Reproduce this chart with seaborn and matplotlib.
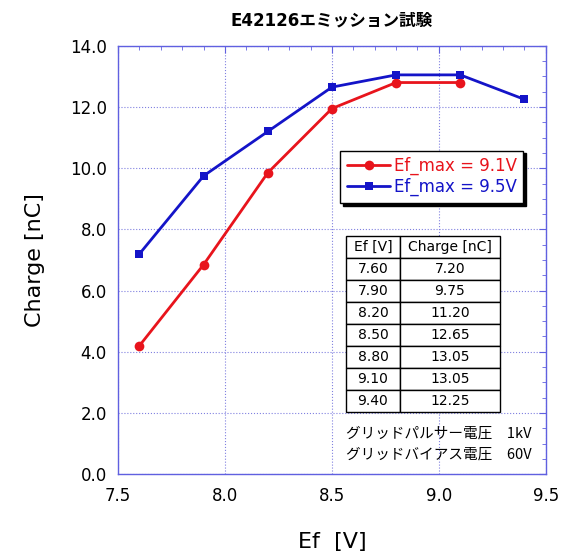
import pandas as pd
import matplotlib
matplotlib.use("Agg")
import matplotlib.pyplot as plt
import seaborn as sns
from matplotlib.ticker import MultipleLocator, FormatStrFormatter

# data
ef_91 = [7.6, 7.9, 8.2, 8.5, 8.8, 9.1]
charge_91 = [4.2, 6.85, 9.85, 11.95, 12.8, 12.8]
ef_95 = [7.6, 7.9, 8.2, 8.5, 8.8, 9.1, 9.4]
charge_95 = [7.20, 9.75, 11.20, 12.65, 13.05, 13.05, 12.25]
table_cols = ["Ef [V]", "Charge [nC]"]
table_ef = ["7.60", "7.90", "8.20", "8.50", "8.80", "9.10", "9.40"]
table_q = ["7.20", "9.75", "11.20", "12.65", "13.05", "13.05", "12.25"]
notes = ["グリッドパルサー電圧　1kV", "グリッドバイアス電圧　60V"]

sns.set_style("white", {"text.color": "black", "axes.labelcolor": "black",
                        "xtick.color": "black", "ytick.color": "black"})
plt.rcParams['font.family'] = ['DejaVu Sans', 'Noto Sans CJK JP']

fig = plt.figure(figsize=(5.65, 5.52), dpi=100)
ax = fig.add_axes([0.209, 0.141, 0.757, 0.776])

df1 = pd.DataFrame({"Ef": ef_91, "Charge": charge_91})
df2 = pd.DataFrame({"Ef": ef_95, "Charge": charge_95})
sns.lineplot(data=df1, x="Ef", y="Charge", ax=ax, color="#e8141c", marker="o",
             markersize=7, markeredgewidth=0, lw=2, label="Ef_max = 9.1V")
sns.lineplot(data=df2, x="Ef", y="Charge", ax=ax, color="#1414c8", marker="s",
             markersize=6, markeredgewidth=0, lw=2, label="Ef_max = 9.5V")

ax.set_xlim(7.5, 9.5)
ax.set_ylim(0, 14)
ax.xaxis.set_major_locator(MultipleLocator(0.5))
ax.xaxis.set_minor_locator(MultipleLocator(0.1))
ax.yaxis.set_major_locator(MultipleLocator(2))
ax.yaxis.set_minor_locator(MultipleLocator(0.5))
ax.xaxis.set_major_formatter(FormatStrFormatter('%.1f'))
ax.yaxis.set_major_formatter(FormatStrFormatter('%.1f'))
ax.tick_params(which='both', direction='in', top=True, right=True, color='#6060e0',
               labelcolor='black')
ax.tick_params(which='major', length=5, labelsize=12)
ax.tick_params(which='minor', length=3)
ax.tick_params(axis='x', which='major', pad=9)
ax.tick_params(axis='y', which='major', pad=8)
for s in ax.spines.values():
    s.set_color('#6060e0')
    s.set_linewidth(1)
ax.grid(True, which='major', color='#8080e0', linestyle=':', linewidth=0.8)

ax.set_xlabel("Ef  [V]", fontsize=16, labelpad=20, color='black')
ax.set_ylabel("Charge [nC]", fontsize=16, labelpad=18, color='black')
ax.set_title("E42126エミッション試験", fontsize=12, fontweight='bold', pad=15,
             color='black')

leg = ax.legend(loc='upper left', bbox_to_anchor=(0.5, 0.775), fontsize=12,
                frameon=True, fancybox=False, shadow={'color': 'black', 'alpha': 1},
                handlelength=2.6, borderpad=0.4, labelspacing=0.15, handletextpad=0.2)
leg.get_frame().set_edgecolor('black')
leg.get_frame().set_linewidth(1)
for txt, c in zip(leg.get_texts(), ["#e8141c", "#1414c8"]):
    txt.set_color(c)

rows = [[a, b] for a, b in zip(table_ef, table_q)]
tbl = ax.table(cellText=rows, colLabels=table_cols, bbox=[0.533, 0.145, 0.36, 0.411],
               colWidths=[0.35, 0.65], cellLoc='center')
tbl.auto_set_font_size(False)
tbl.set_fontsize(10)
tbl.set_zorder(5)
for (r, c), cell in tbl.get_celld().items():
    cell.set_linewidth(1)
    cell.set_edgecolor('black')
    cell.set_facecolor('white')
    cell.get_text().set_color('black')
    if c == 0 and r > 0:
        cell._loc = 'right'

for i, t in enumerate(notes):
    ax.text(0.532, 0.095 - i * 0.048, t, transform=ax.transAxes, fontsize=10.5,
            ha='left', va='center', color='black',
            family=['Noto Sans CJK JP', 'DejaVu Sans'])

fig.savefig("out.png", dpi=100)
